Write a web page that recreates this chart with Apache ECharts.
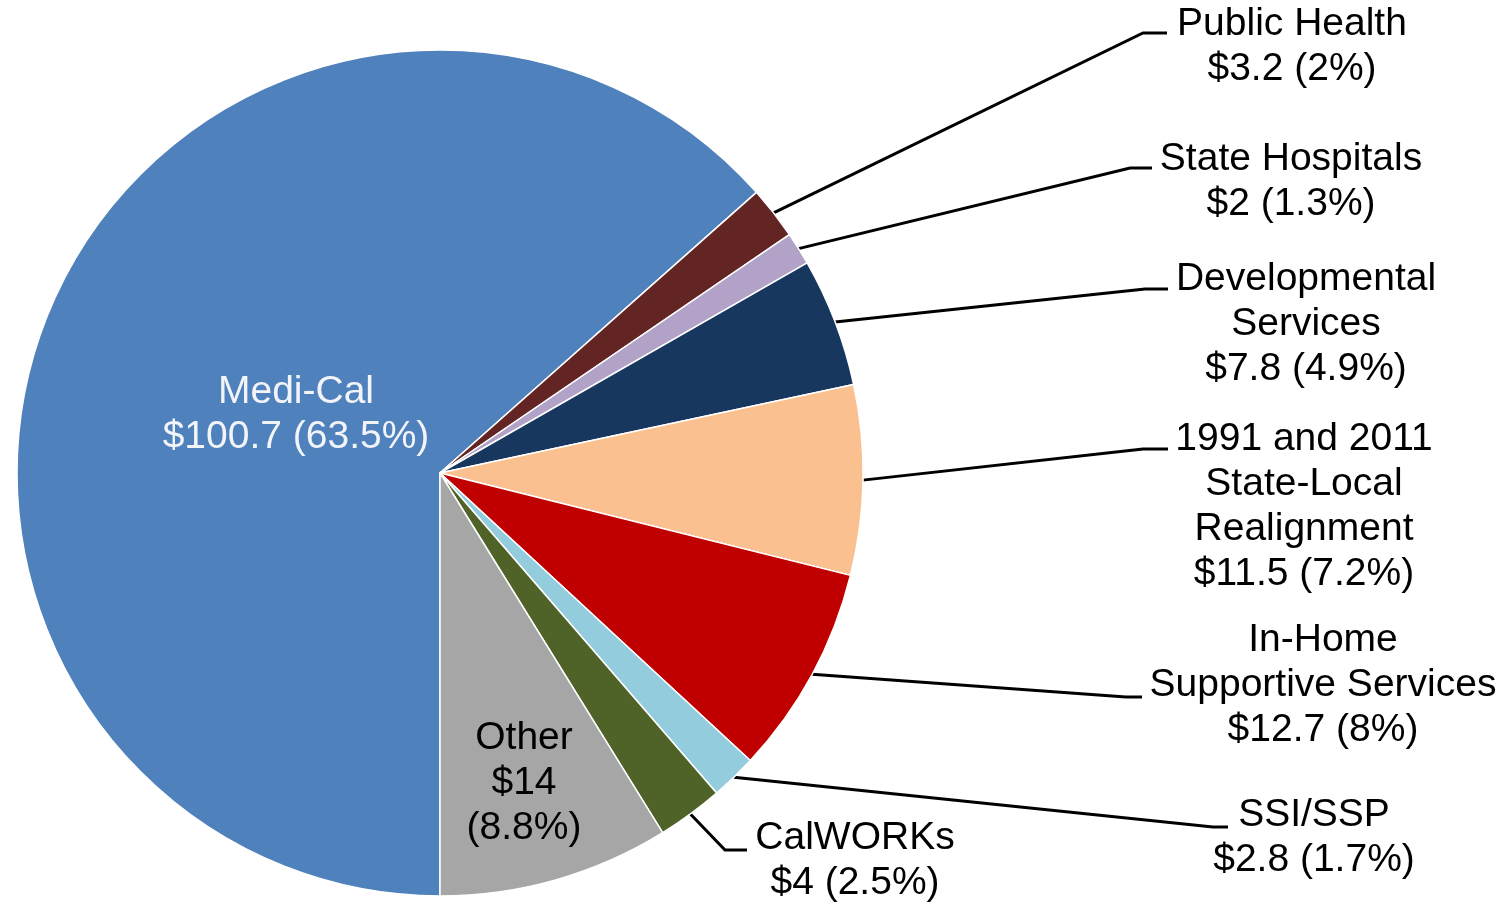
<!DOCTYPE html>
<html>
<head>
<meta charset="utf-8">
<script src="https://cdn.jsdelivr.net/npm/echarts@6/dist/echarts.min.js"></script>
<style>
html,body{margin:0;padding:0;background:#ffffff;}
#main{width:1506px;height:906px;}
</style>
</head>
<body>
<div id="main"></div>
<script>
// ---- data ----
const categories = [
  'Medi-Cal',
  'Public Health',
  'State Hospitals',
  'Developmental\nServices',
  '1991 and 2011\nState-Local\nRealignment',
  'In-Home\nSupportive Services',
  'SSI/SSP',
  'CalWORKs',
  'Other'
];
const values = [100.7, 3.2, 2, 7.8, 11.5, 12.7, 2.8, 4, 14];
const percents = ['63.5', '2', '1.3', '4.9', '7.2', '8', '1.7', '2.5', '8.8'];

// ---- styles / layout ----
const colors = ['#4F81BD', '#632523', '#B3A2C7', '#17375E', '#FAC090', '#C00000', '#93CDDD', '#4F6228', '#A6A6A6'];
const insideLabel = [true, false, false, false, false, false, false, false, true];
const labelColors = ['#F2F4F8', '#000', '#000', '#000', '#000', '#000', '#000', '#000', '#000'];
const percentOnNewLine = [false, false, false, false, false, false, false, false, true];
// label block: [center x, top y]
const labelPos = [[296, 370], [1292, 2], [1291, 137], [1306, 257], [1304, 417], [1323, 618], [1314, 793], [855, 816], [524, 716]];
// leader line: [dy from label top, end dx from label centre, elbow dx from label centre]
const leaders = [null, [31, -125, -149], [31, -139, -161], [32, -138, -161], [32, -136, -161], [79, -181, -197], [34, -86, -101], [34, -108, -130], null];

const data = categories.map((name, i) => ({
  name: name,
  value: values[i],
  itemStyle: { color: colors[i] },
  label: { position: insideLabel[i] ? 'inside' : 'outside', color: labelColors[i] },
  labelLine: { show: !insideLabel[i] }
}));

const chart = echarts.init(document.getElementById('main'), null, { renderer: 'canvas' });
chart.setOption({
  animation: false,
  backgroundColor: '#ffffff',
  series: [{
    type: 'pie',
    center: [440, 473],
    radius: 423,
    startAngle: 270,
    clockwise: true,
    avoidLabelOverlap: false,
    silent: true,
    data: data,
    itemStyle: { borderColor: '#ffffff', borderWidth: 1.5 },
    label: {
      fontFamily: '"Liberation Sans", Arial, sans-serif',
      fontSize: 39,
      lineHeight: 45,
      align: 'center',
      formatter: function (p) {
        const i = p.dataIndex;
        return categories[i] + '\n$' + values[i] + (percentOnNewLine[i] ? '\n' : ' ') + '(' + percents[i] + '%)';
      }
    },
    labelLine: { length: 20, length2: 20, smooth: false, lineStyle: { color: '#000', width: 3 } },
    labelLayout: function (params) {
      const i = params.dataIndex;
      const pos = labelPos[i];
      const res = { x: pos[0], y: pos[1], align: 'center', verticalAlign: 'top' };
      const ld = leaders[i];
      if (ld && params.labelLinePoints) {
        const start = params.labelLinePoints[0];
        const ly = pos[1] + ld[0];
        res.labelLinePoints = [[start[0], start[1]], [pos[0] + ld[2], ly], [pos[0] + ld[1], ly]];
      }
      return res;
    },
    emphasis: { disabled: true }
  }]
});
</script>
</body>
</html>
